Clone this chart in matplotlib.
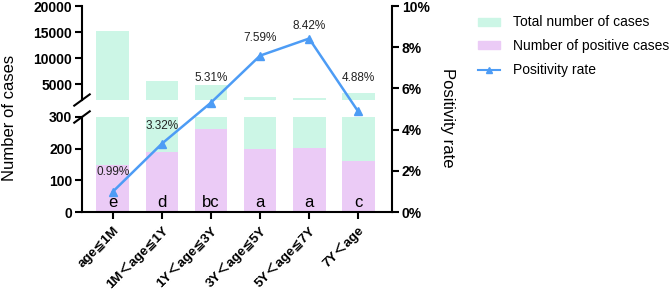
import matplotlib
matplotlib.use('Agg')
import matplotlib.pyplot as plt
import matplotlib.transforms as mtransforms
from matplotlib.patches import Patch
from matplotlib.lines import Line2D
import numpy as np

plt.rcParams['font.family'] = ['Liberation Sans', 'DejaVu Sans', 'Noto Sans CJK SC']

# data
groups = ['age≦1M', '1M＜age≦1Y', '1Y＜age≦3Y', '3Y＜age≦5Y', '5Y＜age≦7Y', '7Y＜age']
total_cases = [15150, 5663, 4915, 2609, 2399, 3299]
positive_cases = [150, 188, 261, 198, 202, 161]
positivity = [0.99, 3.32, 5.31, 7.59, 8.42, 4.88]
letters = ['e', 'd', 'bc', 'a', 'a', 'c']
label_offsets = [14, 13, 18, 13, 9, 24]  # points above marker

mint = '#ccf6e6'
purple = '#ebcbf6'
blue = '#4d9cf5'

W, H = 669, 291
fig = plt.figure(figsize=(W / 100, H / 100), dpi=100)

def box(x0, y0, x1, y1):
    return [x0 / W, 1 - y1 / H, (x1 - x0) / W, (y1 - y0) / H]

ax_top = fig.add_axes(box(82, 6, 392, 100))
ax_bot = fig.add_axes(box(82, 117, 392, 212))
ax_r = fig.add_axes(box(82, 6, 392, 212))

x = np.arange(len(groups))
xlim = (-0.63, 5.69)
bw = 0.67
tick_fs = 10

for ax in (ax_top, ax_bot):
    ax.bar(x, total_cases, width=bw, color=mint, zorder=1)
    ax.bar(x, positive_cases, width=bw, color=purple, zorder=2)
    ax.set_xlim(*xlim)
    for s in ('top', 'right'):
        ax.spines[s].set_visible(False)
    ax.spines['left'].set_linewidth(1.5)
    ax.spines['bottom'].set_linewidth(1.5)
    ax.tick_params(axis='y', width=1.5, length=5, labelsize=tick_fs, pad=2)

ax_top.set_ylim(2000, 20000)
ax_top.set_yticks([5000, 10000, 15000, 20000])
ax_top.spines['bottom'].set_visible(False)
ax_top.set_xticks([])
for lab in ax_top.get_yticklabels():
    lab.set_fontweight('bold')

ax_bot.set_ylim(0, 300)
ax_bot.set_yticks([0, 100, 200, 300])
ax_bot.set_xticks(x)
ax_bot.set_xticklabels(groups, rotation=45, ha='right', va='center',
                       rotation_mode='anchor', fontsize=9.5, fontweight='bold')
ax_bot.tick_params(axis='x', width=1.5, length=5)
shift = mtransforms.ScaledTranslation(4 / 100, -5 / 100, fig.dpi_scale_trans)
for lab in ax_bot.get_xticklabels():
    lab.set_transform(lab.get_transform() + shift)
for lab in ax_bot.get_yticklabels():
    lab.set_fontweight('bold')

for xi, t in zip(x, letters):
    ax_bot.text(xi, 30, t, ha='center', va='center', fontsize=12, zorder=5)

# break marks on the left spine
d = 0.06
for ax, yy in ((ax_top, 0.0), (ax_bot, 1.0)):
    ax.plot([-0.025, 0.025], [yy - d, yy + d], transform=ax.transAxes,
            color='black', lw=1.5, clip_on=False)

fig.text(10 / W, 1 - 118 / H, 'Number of cases', rotation=90, ha='center',
         va='center', fontsize=12)

# right axis with positivity rate
ax_r.patch.set_visible(False)
ax_r.set_xlim(*xlim)
ax_r.set_ylim(0, 10)
for s in ('top', 'left', 'bottom'):
    ax_r.spines[s].set_visible(False)
ax_r.spines['right'].set_linewidth(1.5)
ax_r.yaxis.tick_right()
ax_r.set_xticks([])
ax_r.set_yticks([0, 2, 4, 6, 8, 10])
ax_r.set_yticklabels(['%d%%' % v for v in [0, 2, 4, 6, 8, 10]],
                     fontweight='bold', fontsize=tick_fs)
ax_r.tick_params(axis='y', width=1.5, length=5, pad=2)
ax_r.plot(x, positivity, color=blue, lw=1.8, marker='^', markersize=6, zorder=6)
for xi, v, off in zip(x, positivity, label_offsets):
    ax_r.annotate('%.2f%%' % v, (xi, v), xytext=(0, off), textcoords='offset points',
                  ha='center', va='center', fontsize=8.5, color='#222222')
fig.text(448 / W, 1 - 118 / H, 'Positivity rate', rotation=-90, ha='center',
         va='center', fontsize=12)

handles = [Patch(color=mint), Patch(color=purple),
           Line2D([], [], color=blue, marker='^', markersize=5, lw=1.5)]
labels = ['Total number of cases', 'Number of positive cases', 'Positivity rate']
fig.legend(handles, labels, loc='upper left', bbox_to_anchor=(465 / W, 1 - 3 / H),
           frameon=False, fontsize=10, handlelength=1.6, handleheight=0.5,
           labelspacing=0.7, handletextpad=0.95)

fig.savefig('out.png', dpi=100)
